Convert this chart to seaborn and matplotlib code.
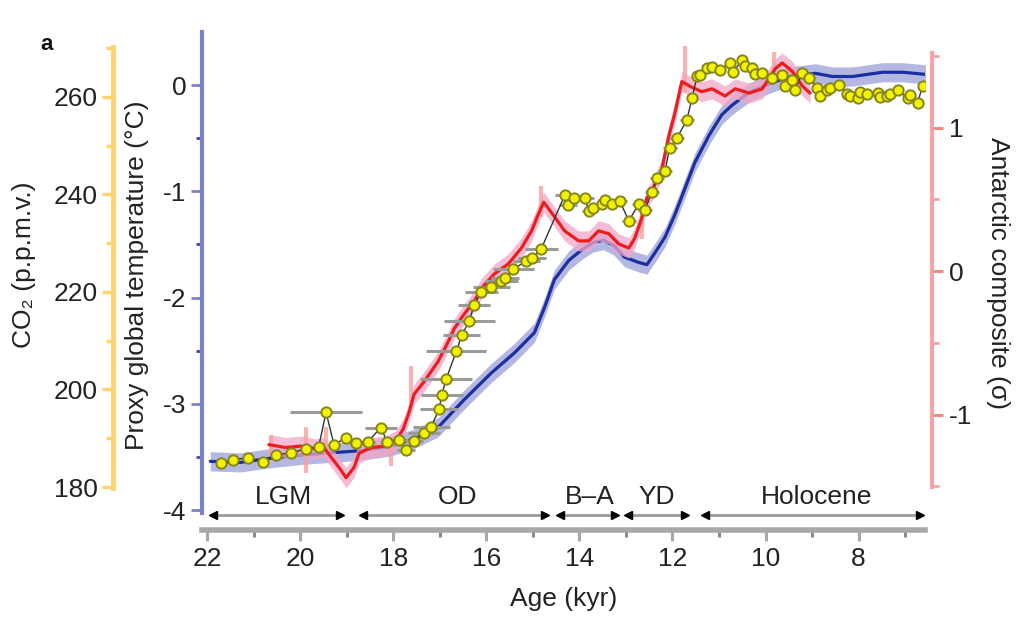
import numpy as np
import pandas as pd
import matplotlib
matplotlib.use("Agg")
import matplotlib.pyplot as plt
import seaborn as sns

sns.set_theme(style="ticks")
plt.rcParams['font.family'] = ['Liberation Sans', 'DejaVu Sans']
plt.rcParams['axes.unicode_minus'] = False

# ---- data ----
# proxy global temperature (deg C)
glob_age = [21.94, 21.29, 20.64, 19.99, 19.35, 18.70, 18.05, 17.51, 17.04, 16.48,
            15.90, 15.40, 14.97, 14.75, 14.54, 14.23, 13.95, 13.70, 13.48, 13.26,
            13.03, 12.72, 12.55, 12.38, 12.16, 11.95, 11.73, 11.52, 11.21, 10.94,
            10.72, 10.35, 9.92, 9.49, 8.93, 8.56, 8.13, 7.48, 7.05, 6.56]
glob_temp = [-3.54, -3.55, -3.51, -3.48, -3.46, -3.44, -3.40, -3.32, -3.22, -2.96,
             -2.71, -2.52, -2.33, -2.09, -1.83, -1.65, -1.55, -1.48, -1.46, -1.51,
             -1.62, -1.67, -1.69, -1.58, -1.43, -1.22, -0.97, -0.73, -0.47, -0.28,
             -0.19, -0.07, 0.01, 0.08, 0.11, 0.08, 0.08, 0.12, 0.12, 0.10]

# Antarctic composite (sigma)
ant_age = [20.68, 20.32, 19.99, 19.67, 19.50, 19.17, 19.02, 18.85, 18.74, 18.48,
           18.16, 17.94, 17.79, 17.66, 17.56, 17.34, 17.04, 16.82, 16.69, 16.48,
           16.26, 16.11, 15.83, 15.53, 15.25, 15.03, 14.88, 14.77, 14.54, 14.32,
           14.02, 13.80, 13.59, 13.37, 13.16, 12.94, 12.81, 12.66, 12.55, 12.44,
           12.23, 12.08, 11.95, 11.80, 11.58, 11.37, 11.15, 10.87, 10.65, 10.35,
           10.07, 9.79, 9.64, 9.42, 9.21, 9.04]
ant_sigma = [-1.21, -1.23, -1.22, -1.24, -1.23, -1.37, -1.44, -1.37, -1.27, -1.23,
             -1.22, -1.18, -1.10, -0.98, -0.86, -0.77, -0.63, -0.49, -0.40, -0.30,
             -0.21, -0.12, -0.02, 0.05, 0.16, 0.28, 0.40, 0.48, 0.38, 0.28,
             0.21, 0.21, 0.28, 0.26, 0.19, 0.16, 0.23, 0.37, 0.51, 0.56,
             0.71, 0.94, 1.10, 1.32, 1.28, 1.25, 1.27, 1.22, 1.27, 1.24,
             1.27, 1.41, 1.45, 1.39, 1.29, 1.24]
ant_bar_age = [20.64, 19.89, 19.45, 18.05, 17.62, 14.82, 12.66, 11.73, 9.81]
ant_bar_lo = [-1.29, -1.41, -1.28, -1.36, -0.91, 0.38, 0.22, 1.25, 1.32]
ant_bar_hi = [-1.14, -1.09, -1.09, -1.18, -0.66, 0.59, 0.50, 1.57, 1.53]

# CO2 (p.p.m.v.) with age uncertainty (kyr)
co2_age = [21.72, 21.46, 21.12, 20.81, 20.53, 20.21, 19.89, 19.61, 19.45, 19.28,
           19.02, 18.81, 18.55, 18.27, 18.14, 17.88, 17.73, 17.56, 17.34, 17.19,
           17.02, 16.96, 16.87, 16.65, 16.53, 16.37, 16.27, 16.11, 15.90, 15.68,
           15.60, 15.42, 15.14, 15.02, 14.82, 14.32, 14.25, 14.11, 13.89, 13.80,
           13.71, 13.52, 13.45, 13.31, 13.13, 12.94, 12.72, 12.59, 12.44, 12.34,
           12.16, 12.06, 11.91, 11.69, 11.58, 11.47, 11.41, 11.26, 11.15, 10.98,
           10.76, 10.70, 10.50, 10.44, 10.29, 10.23, 10.07, 9.86, 9.64, 9.58,
           9.42, 9.37, 9.21, 9.06, 8.89, 8.83, 8.67, 8.62, 8.41, 8.24,
           8.18, 8.02, 7.97, 7.81, 7.59, 7.54, 7.38, 7.32, 7.16, 6.94,
           6.89, 6.73, 6.62]
co2_ppm = [184.9, 185.6, 186.0, 185.2, 186.6, 187.0, 187.8, 188.2, 195.3, 188.7,
           190.1, 189.1, 189.3, 192.2, 189.3, 189.7, 187.6, 189.5, 191.1, 192.4,
           195.9, 198.9, 202.1, 207.8, 211.2, 214.0, 217.3, 220.0, 221.0, 222.3,
           222.9, 224.7, 226.4, 227.0, 228.9, 239.8, 237.8, 239.2, 239.2, 236.7,
           237.2, 238.1, 238.9, 238.1, 238.6, 234.6, 238.1, 236.8, 240.6, 243.3,
           244.9, 249.5, 251.5, 255.3, 259.8, 264.3, 264.5, 266.0, 266.1, 265.6,
           267.0, 265.1, 267.6, 266.4, 266.0, 264.7, 264.9, 263.9, 264.5, 262.3,
           263.5, 261.4, 264.9, 263.9, 261.9, 260.2, 261.4, 261.8, 262.5, 260.6,
           260.1, 259.8, 261.0, 260.6, 260.8, 259.9, 260.2, 260.6, 261.4, 259.8,
           260.5, 258.8, 262.3]
co2_age_err = [0.10, 0.10, 0.10, 0.10, 0.10, 0.10, 0.10, 0.10, 0.77, 0.10,
               0.10, 0.15, 0.15, 0.35, 0.15, 0.20, 0.20, 0.20, 0.35, 0.40,
               0.40, 0.45, 0.55, 0.65, 0.40, 0.55, 0.35, 0.35, 0.40, 0.35,
               0.30, 0.45, 0.30, 0.30, 0.35, 0.20, 0.20, 0.20, 0.20, 0.15,
               0.15, 0.15, 0.15, 0.15, 0.15, 0.15, 0.15, 0.15, 0.15, 0.15,
               0.15, 0.15, 0.15, 0.15, 0.10, 0.10, 0.10, 0.10, 0.10, 0.10,
               0.10, 0.10, 0.10, 0.10, 0.10, 0.10, 0.10, 0.10, 0.10, 0.10,
               0.10, 0.10, 0.10, 0.10, 0.10, 0.10, 0.10, 0.10, 0.10, 0.10,
               0.10, 0.10, 0.10, 0.10, 0.10, 0.10, 0.10, 0.10, 0.10, 0.10,
               0.10, 0.10, 0.10]

# climate periods
periods = ["LGM", "OD", "B\u2013A", "YD", "Holocene"]
period_start = [21.88, 18.66, 14.42, 12.96, 11.30]
period_end = [19.15, 14.75, 13.24, 11.73, 6.68]
period_mid = [20.37, 16.62, 13.77, 12.33, 8.90]

# ---- colours ----
c_blue = '#1b2f9e'
c_blue_band = '#a7abdd'
c_blue_axis = '#7b82c9'
c_red = '#ee1d1d'
c_pink = '#f5a6c8'
c_red_axis = '#f6a3a3'
c_co2_axis = '#ffd470'
c_gray = '#a8a8a8'
c_text = '#222222'
fs = 19

W, H = 1032, 626
fig = plt.figure(figsize=(W / 100, H / 100), dpi=100)
ax = fig.add_axes([202 / W, 1 - 530 / H, (925 - 202) / W, (530 - 32) / H])
ax_r = ax.twinx()
ax_c = ax.twinx()

# global temperature (blue)
gt = np.array(glob_temp)
ax.fill_between(glob_age, gt - 0.09, gt + 0.09, color=c_blue_band, alpha=0.85, lw=0)
sns.lineplot(x=glob_age, y=glob_temp, ax=ax, sort=False, estimator=None,
             color=c_blue, lw=2.3)

# Antarctic composite (red)
asg = np.array(ant_sigma)
ax_r.fill_between(ant_age, asg - 0.07, asg + 0.07, color=c_pink, alpha=0.75, lw=0)
ax_r.vlines(ant_bar_age, ant_bar_lo, ant_bar_hi, color='#f7a0a0', lw=3, alpha=0.8)
sns.lineplot(x=ant_age, y=ant_sigma, ax=ax_r, sort=False, estimator=None,
             color=c_red, lw=2.3)

# CO2 (yellow dots)
ax_c.errorbar(co2_age, co2_ppm, xerr=co2_age_err, fmt='none', ecolor='#9a9a9a',
              elinewidth=2.2, capsize=0, zorder=3)
sns.lineplot(x=co2_age, y=co2_ppm, ax=ax_c, sort=False, estimator=None,
             color='#333333', lw=1.0, zorder=4)
sns.scatterplot(x=co2_age, y=co2_ppm, ax=ax_c, s=55, color='#f2f200',
                edgecolor='#85851a', linewidth=1.4, zorder=5)

# ---- limits ----
ax.set_xlim(22.118, 6.57)
ax.set_ylim(-4.186, 0.4986)
ax_r.set_ylim(-1.805, 1.666)
ax_c.set_ylim(171.18, 273.33)

# ---- x axis ----
ax.spines['top'].set_visible(False)
ax.spines['right'].set_visible(False)
ax.spines['bottom'].set_color(c_gray)
ax.spines['bottom'].set_linewidth(4)
ax.set_xticks([22, 20, 18, 16, 14, 12, 10, 8])
ax.set_xticks([21, 19, 17, 15, 13, 11, 9, 7], minor=True)
ax.tick_params(axis='x', which='major', direction='out', length=8, width=2.2,
               color=c_gray, labelcolor=c_text, labelsize=fs, pad=4)
ax.tick_params(axis='x', which='minor', direction='out', length=5, width=2.2,
               color='#8a8a8a')
ax.set_xlabel("Age (kyr)", fontsize=fs, color=c_text, labelpad=12)

# ---- temperature axis (blue, left) ----
ax.spines['left'].set_color(c_blue_axis)
ax.spines['left'].set_linewidth(3)
ax.spines['left'].set_bounds(-4.03, 0.5)
ax.set_yticks([-4, -3, -2, -1, 0])
ax.set_yticks([-3.5, -2.5, -1.5, -0.5], minor=True)
ax.tick_params(axis='y', which='major', direction='out', length=8, width=2,
               color=c_blue_axis, labelcolor=c_text, labelsize=fs, pad=3)
ax.tick_params(axis='y', which='minor', direction='out', length=4, width=2,
               color='#3f4aa8')

# ---- Antarctic axis (red, right) ----
for s in ['top', 'left', 'bottom']:
    ax_r.spines[s].set_visible(False)
ax_r.spines['right'].set_color(c_red_axis)
ax_r.spines['right'].set_linewidth(3)
ax_r.spines['right'].set_position(('outward', 5))
ax_r.spines['right'].set_bounds(-1.505, 1.52)
ax_r.set_yticks([-1, 0, 1])
ax_r.set_yticks([-1.5, -0.5, 0.5, 1.5], minor=True)
ax_r.tick_params(axis='y', which='major', direction='out', length=8, width=2,
                 color='#f48080', labelcolor=c_text, labelsize=fs, pad=4)
ax_r.tick_params(axis='y', which='minor', direction='out', length=5, width=2,
                 color=c_red_axis)

# ---- CO2 axis (yellow, far left) ----
for s in ['top', 'right', 'bottom']:
    ax_c.spines[s].set_visible(False)
ax_c.spines['left'].set_visible(True)
ax_c.spines['left'].set_color(c_co2_axis)
ax_c.spines['left'].set_linewidth(3.5)
ax_c.spines['left'].set_position(('outward', 64))
ax_c.spines['left'].set_bounds(179.8, 270.3)
ax_c.yaxis.set_ticks_position('left')
ax_c.yaxis.set_label_position('left')
ax_c.set_yticks([180, 200, 220, 240, 260])
ax_c.set_yticks([190, 210, 230, 250, 270], minor=True)
ax_c.tick_params(axis='y', which='major', direction='out', length=8, width=2.5,
                 color=c_co2_axis, labelcolor=c_text, labelsize=fs, pad=3)
ax_c.tick_params(axis='y', which='minor', direction='out', length=5, width=2.5,
                 color=c_co2_axis)

for a in (ax, ax_r, ax_c):
    a.set_ylabel("")

# ---- period arrows ----
tr = ax.get_xaxis_transform()
for name, s, e, m in zip(periods, period_start, period_end, period_mid):
    ax.plot([s, e], [0.03, 0.03], transform=tr, color='#9c9c9c', lw=2,
            clip_on=False, zorder=6)
    ax.plot([s], [0.03], transform=tr, marker='<', color='black', ms=6,
            clip_on=False, zorder=7)
    ax.plot([e], [0.03], transform=tr, marker='>', color='black', ms=6,
            clip_on=False, zorder=7)
    ax.text(m, 0.066, name, transform=tr, ha='center', va='center',
            fontsize=fs, color=c_text)

# ---- axis titles ----
fig.text(137 / W, 1 - 275 / H, "Proxy global temperature (\u00b0C)", rotation=90,
         ha='center', va='center', fontsize=fs, color=c_text)
fig.text(24 / W, 1 - 265 / H, "CO\u2082 (p.p.m.v.)", rotation=90,
         ha='center', va='center', fontsize=fs, color=c_text)
fig.text(998 / W, 1 - 273 / H, "Antarctic composite (\u03c3)", rotation=270,
         ha='center', va='center', fontsize=fs, color=c_text)
fig.text(47 / W, 1 - 45 / H, "a", ha='center', va='center', fontsize=16,
         fontweight='bold', color='#111111')

fig.savefig("out.png", dpi=100)
